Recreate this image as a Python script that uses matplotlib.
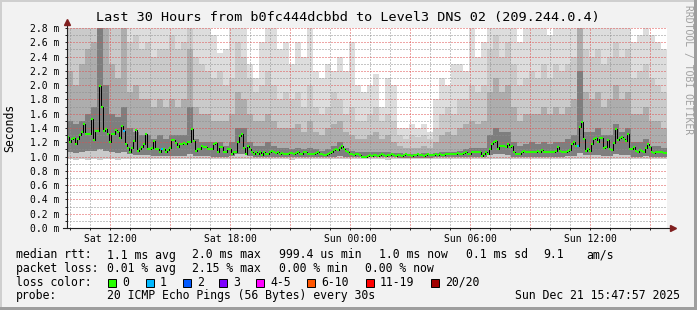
import numpy as np
import matplotlib.pyplot as plt
from matplotlib.patches import Rectangle
from matplotlib.ticker import MultipleLocator, FuncFormatter

plt.rcParams['font.family'] = 'DejaVu Sans Mono'

W, H = 697, 310

# time axis in hours since Sat 00:00
t_start = 9.85
t_end = 39.85
med_step = 0.1     # one median sample
smoke_step = 0.3   # one smoke column

x_tick_hours = [12, 18, 24, 30, 36]
x_tick_labels = ['Sat 12:00', 'Sat 18:00', 'Sun 00:00', 'Sun 06:00', 'Sun 12:00']

# median rtt (ms)
median_ms = [
    1.28, 1.20, 1.25, 1.26, 1.18, 1.25, 1.30, 1.35, 1.45, 1.31,
    1.31, 1.31, 1.53, 1.23, 1.36, 1.36, 1.99, 1.70, 1.36, 1.39,
    1.32, 1.21, 1.32, 1.32, 1.37, 1.35, 1.26, 1.43, 1.36, 1.18,
    1.12, 1.07, 1.12, 1.22, 1.37, 1.08, 1.11, 1.14, 1.17, 1.31,
    1.11, 1.10, 1.12, 1.22, 1.11, 1.10, 1.07, 1.10, 1.10, 1.06,
    1.09, 1.12, 1.23, 1.23, 1.19, 1.14, 1.17, 1.17, 1.19, 1.17,
    1.20, 1.20, 1.39, 1.22, 1.08, 1.11, 1.11, 1.15, 1.14, 1.14,
    1.11, 1.10, 1.11, 1.18, 1.19, 1.06, 1.14, 1.14, 1.07, 1.06,
    1.10, 1.10, 1.04, 1.06, 1.07, 1.20, 1.29, 1.32, 1.12, 1.04,
    1.15, 1.10, 1.06, 1.04, 1.06, 1.04, 1.07, 1.02, 1.07, 1.04,
    1.04, 1.06, 1.08, 1.06, 1.05, 1.07, 1.04, 1.05, 1.04, 1.04,
    1.04, 1.05, 1.05, 1.04, 1.05, 1.07, 1.04, 1.04, 1.06, 1.07,
    1.03, 1.04, 1.04, 1.04, 1.05, 1.06, 1.04, 1.03, 1.02, 1.02,
    1.03, 1.05, 1.07, 1.09, 1.10, 1.09, 1.12, 1.15, 1.11, 1.08,
    1.06, 1.04, 1.03, 1.02, 1.03, 1.03, 1.02, 1.00, 1.00, 1.00,
    1.01, 1.02, 1.01, 1.02, 1.02, 1.01, 1.02, 1.03, 1.02, 1.01,
    1.02, 1.02, 1.03, 1.02, 1.01, 1.02, 1.02, 1.01, 1.02, 1.03,
    1.02, 1.02, 1.01, 1.02, 1.02, 1.03, 1.02, 1.02, 1.01, 1.02,
    1.03, 1.02, 1.02, 1.02, 1.03, 1.02, 1.03, 1.02, 1.02, 1.03,
    1.03, 1.04, 1.03, 1.04, 1.04, 1.05, 1.04, 1.03, 1.05, 1.06,
    1.04, 1.04, 1.06, 1.06, 1.07, 1.06, 1.06, 1.01, 1.03, 1.06,
    1.03, 1.11, 1.17, 1.21, 1.22, 1.11, 1.15, 1.15, 1.15, 1.13,
    1.17, 1.13, 1.15, 1.07, 1.03, 1.04, 1.03, 1.06, 1.08, 1.07,
    1.06, 1.06, 1.06, 1.07, 1.06, 1.08, 1.07, 1.09, 1.06, 1.06,
    1.06, 1.06, 1.06, 1.07, 1.08, 1.14, 1.08, 1.07, 1.07, 1.07,
    1.08, 1.09, 1.18, 1.20, 1.15, 1.15, 1.41, 1.49, 1.25, 1.08,
    1.11, 1.08, 1.17, 1.25, 1.26, 1.20, 1.26, 1.26, 1.12, 1.14,
    1.23, 1.11, 1.09, 1.19, 1.39, 1.23, 1.26, 1.27, 1.25, 1.22,
    1.32, 1.11, 1.11, 1.14, 1.08, 1.07, 1.09, 1.08, 1.06, 1.12,
    1.17, 1.13, 1.07, 1.05, 1.06, 1.06, 1.06, 1.06, 1.05, 1.05,
]
# samples with lost pings: index -> lost count
loss_samples = {28: 1, 47: 1, 255: 1}

# smoke: sorted ping ranks per column (ms)
smoke_p1 = [
    0.96, 0.95, 0.96, 0.95, 0.96, 0.95, 0.96, 0.96, 0.95, 0.96,
    0.96, 0.97, 0.96, 0.96, 0.97, 0.96, 0.96, 0.96, 0.96, 0.96,
    0.96, 0.96, 0.96, 0.97, 0.96, 0.96, 0.96, 0.96, 0.96, 0.96,
    0.96, 0.97, 0.96, 0.96, 0.96, 0.96, 0.96, 0.95, 0.96, 0.96,
    0.96, 0.96, 0.96, 0.96, 0.96, 0.96, 0.96, 0.96, 0.96, 0.96,
    0.96, 0.96, 0.96, 0.95, 0.96, 0.96, 0.96, 0.96, 0.96, 0.96,
    0.96, 0.96, 0.96, 0.96, 0.96, 0.96, 0.96, 0.96, 0.96, 0.96,
    0.96, 0.96, 0.96, 0.96, 0.96, 0.96, 0.96, 0.96, 0.96, 0.96,
    0.96, 0.96, 0.96, 0.96, 0.96, 0.96, 0.96, 0.96, 0.96, 0.96,
    0.96, 0.96, 0.96, 0.96, 0.96, 0.96, 0.96, 0.96, 0.96, 0.96,
]
smoke_p5 = [
    1.06, 1.05, 1.06, 1.08, 1.08, 1.10, 1.08, 1.06, 1.05, 1.06,
    1.03, 1.02, 1.02, 1.02, 1.01, 1.01, 1.01, 1.01, 1.01, 1.01,
    1.04, 1.01, 1.01, 1.01, 1.00, 1.00, 1.00, 1.01, 1.03, 1.03,
    1.01, 1.00, 1.00, 1.00, 1.00, 0.99, 0.99, 0.99, 0.99, 0.99,
    0.99, 0.99, 0.99, 0.99, 1.00, 1.01, 1.00, 0.99, 0.99, 0.99,
    0.99, 0.99, 0.99, 0.99, 0.99, 0.98, 0.98, 0.98, 0.98, 0.98,
    0.98, 0.99, 0.99, 0.99, 0.99, 0.99, 0.99, 0.99, 0.99, 0.99,
    1.02, 1.04, 1.03, 1.02, 1.00, 0.99, 1.00, 1.00, 1.00, 1.00,
    1.00, 1.00, 1.00, 1.01, 1.01, 1.05, 1.02, 1.02, 1.02, 1.01,
    1.01, 1.03, 1.02, 1.02, 1.00, 1.00, 1.01, 1.00, 1.00, 1.00,
]
smoke_p13 = [
    1.50, 1.45, 1.50, 1.60, 1.70, 2.90, 2.00, 1.60, 1.55, 1.70,
    1.40, 1.35, 1.30, 1.30, 1.25, 1.30, 1.25, 1.30, 1.30, 1.30,
    1.70, 1.25, 1.20, 1.20, 1.20, 1.20, 1.15, 1.20, 1.40, 1.40,
    1.20, 1.15, 1.15, 1.20, 1.15, 1.12, 1.12, 1.10, 1.12, 1.10,
    1.12, 1.10, 1.08, 1.10, 1.15, 1.20, 1.12, 1.08, 1.06, 1.06,
    1.07, 1.07, 1.06, 1.06, 1.05, 1.05, 1.04, 1.04, 1.04, 1.05,
    1.04, 1.05, 1.06, 1.07, 1.07, 1.08, 1.10, 1.12, 1.12, 1.12,
    1.30, 1.40, 1.35, 1.35, 1.20, 1.15, 1.18, 1.20, 1.18, 1.20,
    1.18, 1.20, 1.20, 1.25, 1.30, 2.20, 1.35, 1.35, 1.40, 1.30,
    1.30, 1.45, 1.35, 1.40, 1.20, 1.20, 1.25, 1.15, 1.15, 1.12,
]
smoke_p16 = [
    2.20, 2.00, 2.30, 2.50, 2.60, 2.90, 2.90, 2.30, 2.10, 2.90,
    1.90, 2.00, 1.80, 1.80, 1.70, 1.80, 1.70, 1.80, 1.70, 1.80,
    2.50, 1.70, 1.60, 1.60, 1.50, 1.50, 1.50, 1.60, 1.90, 1.80,
    1.60, 1.50, 1.50, 1.60, 1.50, 1.40, 1.40, 1.40, 1.45, 1.35,
    1.50, 1.35, 1.30, 1.40, 1.45, 1.50, 1.35, 1.30, 1.25, 1.25,
    1.30, 1.35, 1.25, 1.30, 1.20, 1.15, 1.12, 1.12, 1.12, 1.15,
    1.12, 1.20, 1.30, 1.35, 1.30, 1.40, 1.45, 1.50, 1.45, 1.50,
    1.90, 2.10, 1.90, 2.00, 1.70, 1.50, 1.60, 1.60, 1.60, 1.70,
    1.60, 1.70, 1.60, 1.70, 1.80, 2.90, 1.90, 1.80, 1.90, 1.70,
    1.80, 2.00, 1.80, 1.90, 1.60, 1.60, 1.70, 1.50, 1.50, 1.40,
]
smoke_p18 = [
    2.90, 2.90, 2.90, 2.90, 2.90, 2.90, 2.90, 2.90, 2.90, 2.90,
    2.60, 2.70, 2.50, 2.60, 2.40, 2.50, 2.50, 2.70, 2.50, 2.60,
    2.90, 2.40, 2.30, 2.20, 2.10, 2.20, 2.00, 2.10, 2.60, 2.40,
    2.10, 1.90, 2.00, 2.20, 2.00, 1.80, 1.90, 1.80, 1.90, 1.70,
    2.00, 1.70, 1.60, 1.70, 1.90, 1.80, 1.60, 1.70, 1.50, 1.50,
    1.60, 1.70, 1.50, 1.60, 1.50, 1.30, 1.25, 1.30, 1.28, 1.30,
    1.25, 1.40, 1.60, 1.70, 1.60, 1.80, 1.80, 2.00, 1.90, 2.00,
    2.50, 2.70, 2.40, 2.60, 2.30, 2.00, 2.10, 2.20, 2.10, 2.30,
    2.10, 2.30, 2.20, 2.30, 2.40, 2.90, 2.50, 2.40, 2.50, 2.30,
    2.40, 2.60, 2.40, 2.50, 2.10, 2.20, 2.30, 2.10, 2.00, 1.90,
]
smoke_p20 = [
    2.90, 2.90, 2.90, 2.90, 2.90, 2.90, 2.90, 2.90, 2.90, 2.90,
    2.90, 2.90, 2.90, 2.90, 2.90, 2.90, 2.90, 2.90, 2.90, 2.90,
    2.90, 2.90, 2.90, 2.90, 2.70, 2.45, 2.50, 2.90, 2.90, 2.90,
    2.30, 2.10, 2.60, 2.80, 2.80, 2.50, 2.60, 2.30, 2.60, 2.40,
    2.80, 2.20, 2.10, 2.30, 2.20, 2.40, 2.20, 2.60, 2.00, 1.90,
    2.00, 2.15, 1.70, 2.10, 2.00, 1.40, 1.40, 1.45, 1.40, 1.45,
    1.35, 1.80, 2.10, 2.00, 2.30, 2.30, 2.20, 2.90, 2.40, 2.60,
    2.90, 2.90, 2.90, 2.90, 2.90, 2.60, 2.90, 2.90, 2.80, 2.90,
    2.70, 2.90, 2.90, 2.90, 2.90, 2.90, 2.90, 2.90, 2.90, 2.80,
    2.90, 2.90, 2.90, 2.90, 2.60, 2.70, 2.90, 2.70, 2.60, 2.50,
]

loss_colors = {0: '#26ff00', 1: '#00b8ff', 2: '#0059ff', 3: '#7e00ff',
               5: '#ff00ff', 10: '#ff5500', 19: '#ff0000', 20: '#a10000'}
loss_legend = [('0', 0), ('1', 1), ('2', 2), ('3', 3), ('4-5', 5),
               ('6-10', 10), ('11-19', 19), ('20/20', 20)]

fig = plt.figure(figsize=(W / 100, H / 100), dpi=100, facecolor='#f2f2f2')
ax = fig.add_axes([67 / W, 82 / H, 600 / W, 200 / H])
ax.set_facecolor('white')

# frame shading
fig.patches.append(Rectangle((0, 1 - 2 / H), 1, 2 / H, transform=fig.transFigure, color='#cfcfcf', lw=0))
fig.patches.append(Rectangle((0, 0), 2 / W, 1, transform=fig.transFigure, color='#cfcfcf', lw=0))
fig.patches.append(Rectangle((0, 0), 1, 3 / H, transform=fig.transFigure, color='#9e9e9e', lw=0))
fig.patches.append(Rectangle((1 - 3 / W, 0), 3 / W, 1, transform=fig.transFigure, color='#9e9e9e', lw=0))


def ext(a):
    return np.append(a, a[-1])


# smoke layers
sx = t_start + smoke_step * np.arange(len(smoke_p20) + 1)
layers = [(smoke_p1, smoke_p20, '#dddddd'),
          (smoke_p1, smoke_p18, '#cacaca'),
          (smoke_p5, smoke_p16, '#adadad'),
          (smoke_p5, smoke_p13, '#7e7e7e')]
for lo, hi, col in layers:
    ax.fill_between(sx, ext(lo), ext(hi), step='post', color=col, lw=0,
                    antialiased=False, zorder=1)

# median line
mx = t_start + med_step * np.arange(len(median_ms) + 1)
ax.step(mx, ext(median_ms), where='post', color='black', lw=0.72, zorder=3)
cols = [loss_colors[loss_samples.get(i, 0)] for i in range(len(median_ms))]
ax.hlines(median_ms, mx[:-1], mx[1:], colors=cols, lw=1.5, zorder=4)

ax.set_xlim(t_start, t_end)
ax.set_ylim(0, 2.8)

# grid
ax.xaxis.set_major_locator(MultipleLocator(3))
ax.xaxis.set_minor_locator(MultipleLocator(1))
ax.yaxis.set_major_locator(MultipleLocator(0.2))
ax.yaxis.set_minor_locator(MultipleLocator(0.1))
ax.set_axisbelow(False)
ax.grid(which='major', color=(0.87, 0.31, 0.31, 0.6), ls=(0, (1, 2)), lw=0.72)
ax.grid(which='minor', color=(0.56, 0.56, 0.56, 0.75), ls=(0, (1, 2)), lw=0.72)

xlab = dict(zip(x_tick_hours, x_tick_labels))
ax.xaxis.set_major_formatter(FuncFormatter(lambda v, p: xlab.get(int(round(v)), '')))
ax.yaxis.set_major_formatter(FuncFormatter(lambda v, p: f'{v:.1f} m'))
ax.tick_params(which='both', direction='out', color='#1f1f1f', width=0.7, labelsize=7)
ax.tick_params(axis='y', which='major', length=1.5, pad=4.1)
ax.tick_params(axis='y', which='minor', length=1.5)
ax.tick_params(axis='x', which='major', length=1.5, pad=2.5)
ax.tick_params(axis='x', which='minor', length=1.5)

for s in ax.spines.values():
    s.set_visible(False)

# axes with arrows
ax.plot([0, 0], [0, 1 + 4 / 200], transform=ax.transAxes, color='#1f1f1f',
        lw=0.8, clip_on=False, zorder=6)
ax.plot([-4 / 600, 1 + 4 / 600], [0, 0], transform=ax.transAxes, color='#1f1f1f',
        lw=0.8, clip_on=False, zorder=6)
ax.plot([0], [1 + 6 / 200], marker='^', ms=3.8, color='#801f1f', mec='#801f1f',
        transform=ax.transAxes, clip_on=False, zorder=7)
ax.plot([1 + 6 / 600], [0], marker='>', ms=3.8, color='#801f1f', mec='#801f1f',
        transform=ax.transAxes, clip_on=False, zorder=7)

# texts
def ftext(x, y, s, **kw):
    fig.text(x / W, 1 - y / H, s, **kw)


ftext(348, 18, 'Last 30 Hours from b0fc444dcbbd to Level3 DNS 02 (209.244.0.4)',
      fontsize=9.7, ha='center', va='center')
ftext(10, 128, 'Seconds', fontsize=8.3, rotation=90, ha='center', va='center')
ftext(688, 5, 'RRDTOOL / TOBI OETIKER', fontsize=7, rotation=-90, ha='center',
      va='top', color='#a0a0a0')

fs = 8.3
row1 = [(16, 'median rtt:'), (107, '1.1 ms avg'), (192, '2.0 ms max'),
        (279, '999.4 us min'), (379, '1.0 ms now'), (466, '0.1 ms sd'),
        (543, '9.1'), (586, 'am/s')]
for x, s in row1:
    ftext(x, 255, s, fontsize=fs, va='center')
row2 = [(16, 'packet loss:'), (107, '0.01 % avg'), (192, '2.15 % max'),
        (279, '0.00 % min'), (365, '0.00 % now')]
for x, s in row2:
    ftext(x, 268.5, s, fontsize=fs, va='center')

ftext(16, 282, 'loss color:', fontsize=fs, va='center')
sq_x = [108, 146, 183, 219, 256, 307, 366, 431]
for x, (lab, k) in zip(sq_x, loss_legend):
    fig.patches.append(Rectangle((x / W, 1 - 286.5 / H), 8 / W, 8 / H,
                                 transform=fig.transFigure, facecolor=loss_colors[k],
                                 edgecolor='black', lw=0.7))
    ftext(x + 14, 282, lab, fontsize=fs, va='center')

ftext(16, 295.5, 'probe:', fontsize=fs, va='center')
ftext(107, 295.5, '20 ICMP Echo Pings (56 Bytes) every 30s', fontsize=fs, va='center')
ftext(680, 295.5, 'Sun Dec 21 15:47:57 2025', fontsize=fs, va='center', ha='right')

fig.savefig('out.png', dpi=100, facecolor=fig.get_facecolor())
